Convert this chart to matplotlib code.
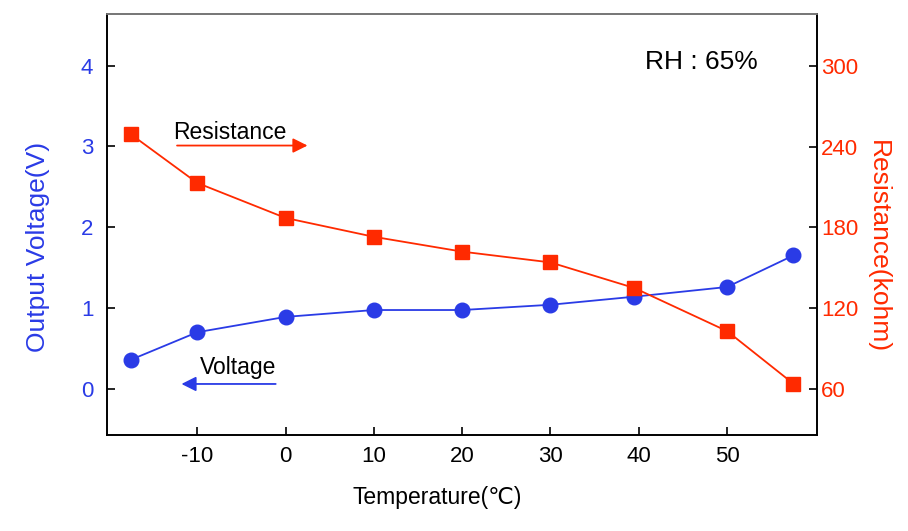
import matplotlib
matplotlib.use('Agg')
import matplotlib.pyplot as plt

plt.rcParams['font.family'] = ['Liberation Sans', 'DejaVu Sans']
plt.rcParams['axes.unicode_minus'] = False

# data
temperature = [-17.5, -10, 0, 10, 20, 30, 39.5, 50, 57.5]
voltage = [0.36, 0.70, 0.89, 0.975, 0.975, 1.04, 1.14, 1.26, 1.65]
resistance = [249, 213, 187, 173, 162, 154, 135, 103, 64]

blue = '#2a3be6'
red = '#ff2a00'

fig = plt.figure(figsize=(9.08, 5.31), dpi=100)
ax = fig.add_axes([0.118, 0.181, 0.782, 0.793])
ax2 = ax.twinx()

ax.plot(temperature, voltage, '-o', color=blue, lw=1.3, ms=10.5, zorder=3)
ax2.plot(temperature, resistance, '-s', color=red, lw=1.3, ms=9.5, zorder=2)

ax.set_xlim(-20.2, 60.2)
ax.set_ylim(-0.57, 4.64)
ax2.set_ylim(26, 338.5)

ax.set_xticks([-10, 0, 10, 20, 30, 40, 50])
ax.set_yticks([0, 1, 2, 3, 4])
ax2.set_yticks([60, 120, 180, 240, 300])

ax.tick_params(axis='x', direction='in', length=6, width=1.2, labelsize=16, pad=8)
ax.tick_params(axis='y', direction='in', length=6, width=1.2, labelsize=16,
               labelcolor=blue, pad=10)
ax2.tick_params(axis='y', direction='in', length=6, width=1.2, labelsize=16,
                labelcolor=red, pad=3)

for a in (ax, ax2):
    for s in a.spines.values():
        s.set_linewidth(1.2)
ax2.spines['top'].set_color('#888888')

ax.set_xlabel('Temperature(℃)', fontsize=16.5, va='center')
ax.xaxis.set_label_coords(0.465, -0.148)
ax.set_ylabel('Output Voltage(V)', fontsize=19, color=blue, va='center')
ax.yaxis.set_label_coords(-0.097, 0.447)
ax2.set_ylabel('Resistance(kohm)', fontsize=19, color=red, rotation=270, va='center')
ax2.yaxis.set_label_coords(1.086, 0.447)

# annotations
ax.annotate('', xy=(2.8, 3.01), xytext=(-12.6, 3.01),
            arrowprops=dict(arrowstyle='-|>', color=red, lw=1.3, mutation_scale=22))
ax.text(-12.7, 3.17, 'Resistance', fontsize=16.5, va='center', ha='left')
ax.annotate('', xy=(-12.1, 0.06), xytext=(-0.8, 0.06),
            arrowprops=dict(arrowstyle='-|>', color=blue, lw=1.3, mutation_scale=22))
ax.text(-9.7, 0.26, 'Voltage', fontsize=16.5, va='center', ha='left')
ax.text(40.7, 4.04, 'RH : 65%', fontsize=19, va='center', ha='left')

fig.savefig('out.png', dpi=100)
